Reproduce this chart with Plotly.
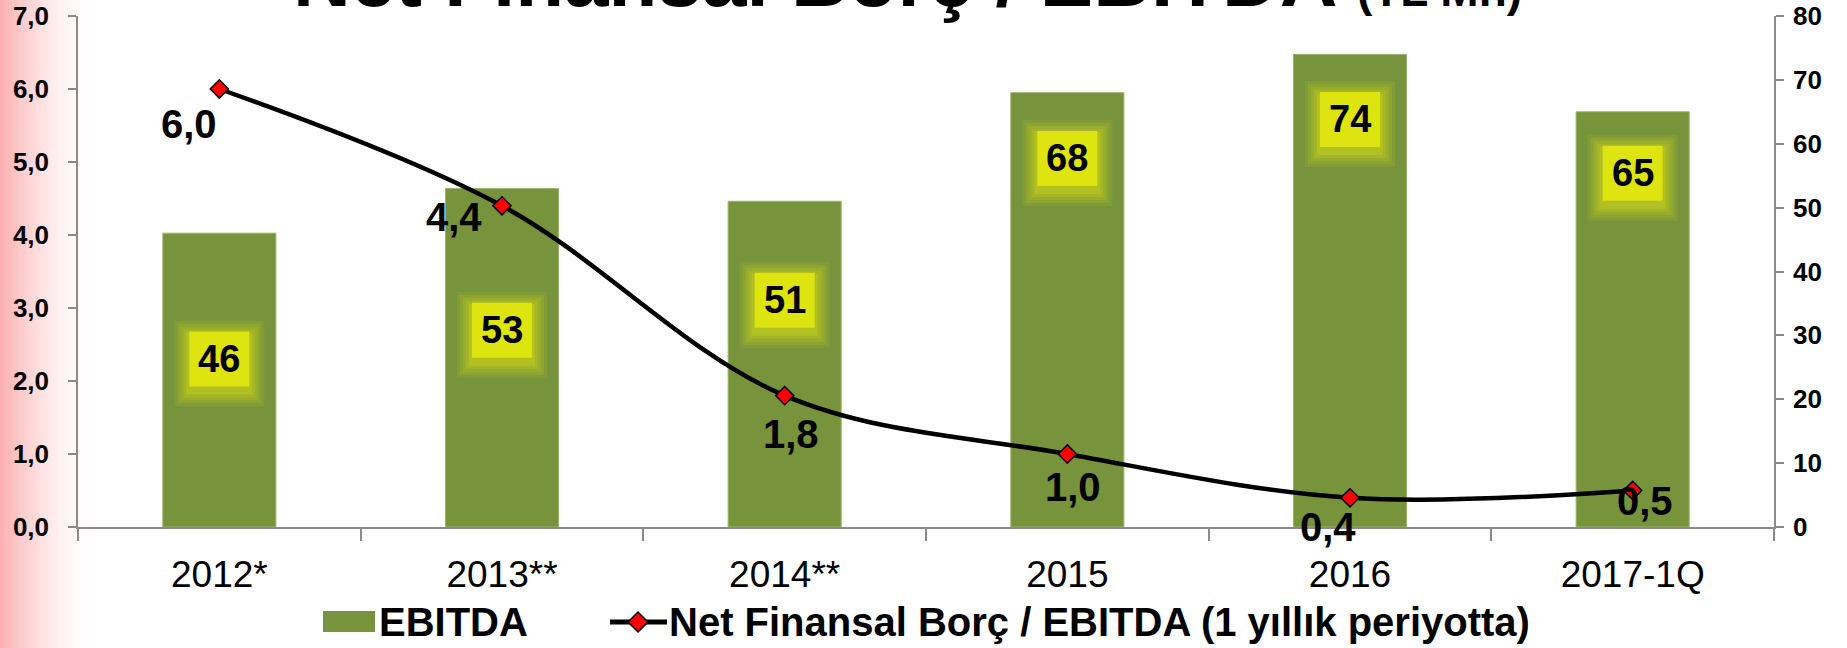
import plotly.graph_objects as go

# ---------------- data ----------------
categories = ["2012*", "2013**", "2014**", "2015", "2016", "2017-1Q"]
ebitda = [46, 53, 51, 68, 74, 65]                 # TL Mn (right axis)
net_debt_ebitda = [6.0, 4.4, 1.8, 1.0, 0.4, 0.5]  # ratio (left axis)
left_ticks = [0, 1, 2, 3, 4, 5, 6, 7]
right_ticks = [0, 10, 20, 30, 40, 50, 60, 70, 80]

bar_name = "EBITDA"
line_name = "Net Finansal Borç / EBITDA (1 yıllık periyotta)"
title_main = "Net Finansal Borç / EBITDA"
title_unit = "(TL Mn)"

# ---------------- layout helpers (styling only) ----------------
W, H = 1847, 648
L, R, T, B = 78, 73, 16, 121
PW, PH = W - L - R, H - T - B


def px(p):
    return (p - L) / PW


def py(p):
    return (H - B - p) / PH


FONT = "Liberation Sans, Arial, sans-serif"
GREEN = "#77933C"
AXIS = "#8a8a8a"

# label placement (layout): bar-label heights in right-axis units, line-label pixel offsets
bar_label_level = [26.3, 30.8, 35.5, 57.7, 63.8, 55.4]
line_label_shift = [(-30, 35), (-48, 11), (6, 38), (6, 33), (-22, 29), (12, 10)]
BOX_W, BOX_H = 60, 55

fig = go.Figure()

fig.add_trace(go.Bar(
    x=categories, y=ebitda, name=bar_name, yaxis="y",
    marker=dict(color=GREEN, line=dict(color="#9bb56a", width=1)),
    showlegend=False, hoverinfo="x+y",
))

fig.add_trace(go.Scatter(
    x=categories, y=net_debt_ebitda, name=line_name, yaxis="y2",
    mode="lines+markers",
    line=dict(color="black", width=4.5, shape="spline", smoothing=1.0),
    marker=dict(symbol="diamond", size=14, color="red", line=dict(color="black", width=1.5)),
    showlegend=False,
))

annotations = []
shapes = []

# bar value labels in yellow glowing boxes (box and glow as pixel-sized shapes)
for i, (val, lvl) in enumerate(zip(ebitda, bar_label_level)):
    for k, a in [(5, 0.10), (4, 0.12), (3, 0.15), (2, 0.18), (1, 0.22)]:
        g = 3 * k
        shapes.append(dict(
            type="rect", xref="x", yref="y", layer="above",
            xsizemode="pixel", ysizemode="pixel", xanchor=i, yanchor=lvl,
            x0=-BOX_W / 2 - g, x1=BOX_W / 2 + g,
            y0=-BOX_H / 2 - g - 5, y1=BOX_H / 2 + g - 4,
            fillcolor=f"rgba(221,228,16,{a})", line=dict(width=0),
        ))
    shapes.append(dict(
        type="rect", xref="x", yref="y", layer="above",
        xsizemode="pixel", ysizemode="pixel", xanchor=i, yanchor=lvl,
        x0=-BOX_W / 2, x1=BOX_W / 2, y0=-BOX_H / 2, y1=BOX_H / 2,
        fillcolor="rgb(221,228,16)", line=dict(width=0),
    ))
    annotations.append(dict(
        x=i, y=lvl, xref="x", yref="y", text=f"<b>{val}</b>",
        showarrow=False, font=dict(family=FONT, size=38, color="black"),
        xanchor="center", yanchor="middle",
    ))

# line value labels
for i, (val, (dx, dy)) in enumerate(zip(net_debt_ebitda, line_label_shift)):
    annotations.append(dict(
        x=i, y=val, xref="x", yref="y2", text="<b>" + f"{val:.1f}".replace(".", ",") + "</b>",
        showarrow=False, font=dict(family=FONT, size=40, color="black"),
        xshift=dx, yshift=-dy, xanchor="center", yanchor="middle",
    ))

# title (cut off at the top like the original)
annotations.append(dict(
    x=px(291), y=py(24.7), xref="paper", yref="paper", xanchor="left", yanchor="bottom",
    text=f"<b>{title_main} <span style='font-size:46px'>{title_unit}</span></b>",
    showarrow=False, font=dict(family=FONT, size=80, color="black"),
))

# manual legend texts
annotations.append(dict(
    x=px(377), y=py(622), xref="paper", yref="paper", xanchor="left", yanchor="middle",
    text=f"<b>{bar_name}</b>", showarrow=False, font=dict(family=FONT, size=40, color="black"),
))
annotations.append(dict(
    x=px(667), y=py(622), xref="paper", yref="paper", xanchor="left", yanchor="middle",
    text=f"<b>{line_name}</b>", showarrow=False, font=dict(family=FONT, size=40, color="black"),
))

# pink gradient strip at left edge
n = 30
for i in range(n):
    a = 0.42 * (1 - i / n) ** 1.6
    shapes.append(dict(
        type="rect", xref="paper", yref="paper", layer="below",
        x0=px(i * 3), x1=px(i * 3 + 3), y0=py(H), y1=py(0),
        fillcolor=f"rgba(245,70,70,{a:.3f})", line=dict(width=0),
    ))
# legend symbols
shapes.append(dict(type="rect", xref="paper", yref="paper",
                   x0=px(323), x1=px(375), y0=py(632), y1=py(611),
                   fillcolor=GREEN, line=dict(width=0)))
shapes.append(dict(type="line", xref="paper", yref="paper",
                   x0=px(610), x1=px(667), y0=py(622), y1=py(622),
                   line=dict(color="black", width=5)))
cx, cy, hw, hh = 638, 622, 10, 10
shapes.append(dict(type="path", xref="paper", yref="paper",
                   path=(f"M {px(cx - hw)} {py(cy)} L {px(cx)} {py(cy - hh)} "
                         f"L {px(cx + hw)} {py(cy)} L {px(cx)} {py(cy + hh)} Z"),
                   fillcolor="red", line=dict(color="black", width=1.5)))

fig.update_layout(
    width=W, height=H,
    margin=dict(l=L, r=R, t=T, b=B, pad=0, autoexpand=False),
    paper_bgcolor="white", plot_bgcolor="rgba(0,0,0,0)",
    separators=",.",
    bargap=0.6,
    showlegend=False,
    font=dict(family=FONT, color="black"),
    xaxis=dict(
        type="category", range=[-0.5, len(categories) - 0.5], automargin=False,
        showline=True, linecolor=AXIS, linewidth=1.5,
        ticks="outside", tickson="boundaries", ticklen=12, tickcolor=AXIS, tickwidth=1.5,
        tickfont=dict(family=FONT, size=37, color="black"), ticklabelstandoff=14,
        tickangle=0, showgrid=False, zeroline=False,
    ),
    yaxis=dict(
        side="right", range=[0, 80], tickvals=right_ticks, automargin=False,
        showline=True, linecolor=AXIS, linewidth=1.5,
        ticks="outside", ticklen=8, tickcolor=AXIS, tickwidth=1.5,
        tickfont=dict(family=FONT, size=26, color="black", weight="bold"),
        ticklabelstandoff=4,
        showgrid=False, zeroline=False,
    ),
    yaxis2=dict(
        overlaying="y", side="left", range=[0, 7], tickvals=left_ticks, tickformat=".1f",
        automargin=False,
        showline=True, linecolor=AXIS, linewidth=1.5,
        ticks="outside", ticklen=8, tickcolor=AXIS, tickwidth=1.5,
        tickfont=dict(family=FONT, size=26, color="black", weight="bold"),
        ticklabelstandoff=14,
        showgrid=False, zeroline=False,
    ),
    annotations=annotations,
    shapes=shapes,
)

fig.write_html("out.html", config={"displayModeBar": False},
               post_script="document.body.style.margin='0';")
